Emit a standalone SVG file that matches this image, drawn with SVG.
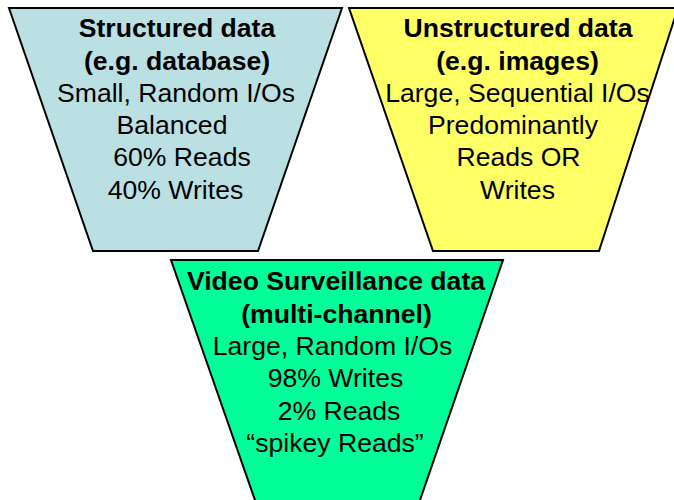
<svg xmlns="http://www.w3.org/2000/svg" width="674" height="500" viewBox="0 0 674 500">
  <style>
    .shape { stroke: #000; stroke-width: 2; stroke-linejoin: miter; }
    .blue { fill: #BBE0E3; }
    .yellow { fill: #FFFF66; }
    .green { fill: #00FF99; }
    text { font-family: "Liberation Sans", Arial, sans-serif; font-size: 26.6px; fill: #000; text-anchor: middle; }
    .title { font-weight: bold; }
  </style>
  <rect width="674" height="500" fill="#fff"/>

  <g id="structured">
    <polygon class="shape blue" points="9,8 342,8 258,251 93,251"/>
    <text class="title" x="177" y="37">Structured data</text>
    <text class="title" x="177" y="69.5">(e.g. database)</text>
    <text x="176" y="101.5">Small, Random I/Os</text>
    <text x="172" y="134">Balanced</text>
    <text x="182" y="166">60% Reads</text>
    <text x="175.5" y="198.5">40% Writes</text>
  </g>

  <g id="unstructured">
    <polygon class="shape yellow" points="349,8 678,8 599,251 433,251"/>
    <text class="title" x="518" y="37">Unstructured data</text>
    <text class="title" x="517.5" y="69.5">(e.g. images)</text>
    <text x="517.5" y="101.5">Large, Sequential I/Os</text>
    <text x="513" y="134">Predominantly</text>
    <text x="518.5" y="166">Reads OR</text>
    <text x="517.5" y="198.5">Writes</text>
  </g>

  <g id="surveillance">
    <polygon class="shape green" points="171,260 503,260 419,503 256,503"/>
    <text class="title" x="336" y="290">Video Surveillance data</text>
    <text class="title" x="336.5" y="322.5">(multi-channel)</text>
    <text x="332.5" y="355">Large, Random I/Os</text>
    <text x="335.5" y="387">98% Writes</text>
    <text x="339" y="419.5">2% Reads</text>
    <text x="335" y="452">“spikey Reads”</text>
  </g>

  <g id="connectors"/>
</svg>
